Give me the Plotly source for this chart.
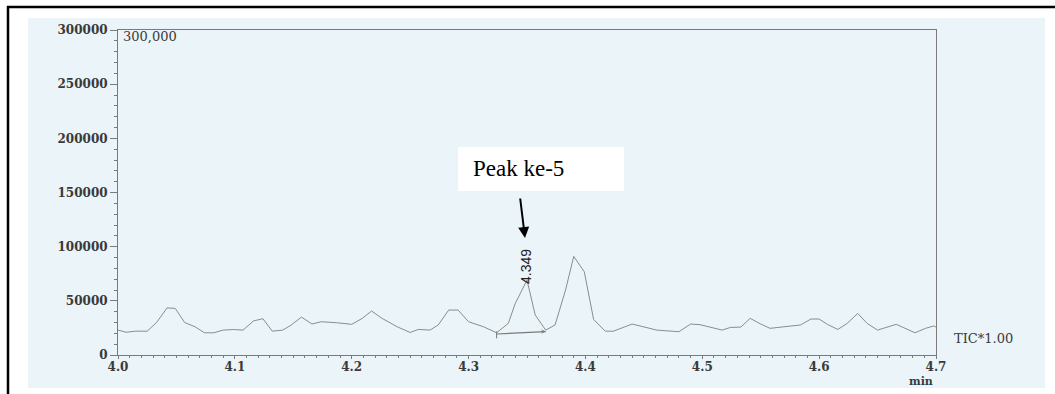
import plotly.graph_objects as go

# Retention time (min) and TIC intensity
time_min = [4.000, 4.007, 4.015, 4.025, 4.033, 4.042, 4.049, 4.057, 4.066, 4.074,
            4.082, 4.090, 4.099, 4.107, 4.116, 4.124, 4.132, 4.141, 4.148, 4.157,
            4.166, 4.174, 4.187, 4.200, 4.209, 4.217, 4.226, 4.239, 4.250, 4.257,
            4.267, 4.274, 4.283, 4.291, 4.300, 4.313, 4.324, 4.334, 4.340, 4.350,
            4.357, 4.366, 4.374, 4.383, 4.390, 4.399, 4.407, 4.417, 4.424, 4.440,
            4.461, 4.480, 4.490, 4.498, 4.517, 4.524, 4.533, 4.541, 4.550, 4.558,
            4.576, 4.584, 4.593, 4.600, 4.607, 4.616, 4.624, 4.633, 4.641, 4.650,
            4.666, 4.674, 4.682, 4.691, 4.698, 4.711]
intensity = [23000, 21000, 22000, 22000, 30000, 43500, 43000, 30000, 26000, 20500,
             20500, 23000, 23500, 23000, 31500, 33500, 22000, 23000, 27500, 35000,
             28600, 30700, 29800, 28300, 33800, 40600, 33800, 26000, 20800, 23600,
             23000, 27700, 41500, 41500, 30700, 26000, 20500, 29200, 47700, 69200,
             37000, 23000, 27700, 60000, 91000, 76900, 32800, 22000, 22000, 28600,
             23000, 21500, 28600, 28000, 23000, 25400, 25800, 33800, 28600, 24600,
             26800, 27700, 33200, 33200, 28300, 23600, 29200, 38400, 29200, 23000,
             28300, 24600, 20500, 24600, 26800, 20000]

# Integration baseline of the marked peak
baseline_x = [4.324, 4.366]
baseline_y = [19400, 21600]
peak_rt = 4.349
peak_label = "4.349"
peak_name = "Peak ke-5"

x_ticks = [4.0, 4.1, 4.2, 4.3, 4.4, 4.5, 4.6, 4.7]
y_ticks = [0, 50000, 100000, 150000, 200000, 250000, 300000]

BG = "#EBF4F8"
AX = "#7a7a7a"
TXT = "#3a3a3a"
SERIF = "DejaVu Serif"

fig = go.Figure()
fig.add_trace(go.Scatter(x=time_min, y=intensity, mode="lines",
                         line=dict(color="#8c8c8c", width=1), showlegend=False,
                         hoverinfo="x+y"))
fig.add_trace(go.Scatter(x=baseline_x, y=baseline_y, mode="lines",
                         line=dict(color="#7a7a7a", width=1.2), showlegend=False,
                         hoverinfo="skip"))

W, H = 1055, 394
L, R, T, B = 118, 119, 30, 39
pw, ph = W - L - R, H - T - B

def px_x(p):
    return (p - L) / pw

def px_y(p):
    return (H - B - p) / ph

shapes = [
    # scanned light-blue area
    dict(type="rect", xref="paper", yref="paper", x0=px_x(28), x1=px_x(1045),
         y0=px_y(388), y1=px_y(18), fillcolor=BG, line=dict(width=0), layer="below"),
    # outer black frame (left and top)
    dict(type="line", xref="paper", yref="paper", x0=px_x(8), x1=px_x(8),
         y0=px_y(400), y1=px_y(6), line=dict(color="black", width=2.5)),
    dict(type="line", xref="paper", yref="paper", x0=px_x(7), x1=px_x(1060),
         y0=px_y(7), y1=px_y(7), line=dict(color="black", width=2.5)),
    # white label box
    dict(type="rect", xref="x", yref="y", x0=4.291, x1=4.433, y0=151400, y1=192000,
         fillcolor="white", line=dict(width=0)),
    # baseline end tick
    dict(type="line", xref="x", yref="y", x0=baseline_x[0], x1=baseline_x[0],
         y0=baseline_y[0] - 4000, y1=baseline_y[0] + 2500, line=dict(color="#7a7a7a", width=1)),
]

annotations = [
    dict(x=px_x(121), y=px_y(37), xref="paper", yref="paper", text="300,000",
         showarrow=False, xanchor="left", yanchor="middle",
         font=dict(family=SERIF, size=13, color=TXT)),
    dict(x=px_x(952), y=px_y(338), xref="paper", yref="paper", text="TIC*1.00",
         showarrow=False, xanchor="left", yanchor="middle",
         font=dict(family=SERIF, size=13, color=TXT)),
    dict(x=px_x(921), y=px_y(381), xref="paper", yref="paper", text="<b>min</b>",
         showarrow=False, xanchor="center", yanchor="middle",
         font=dict(family=SERIF, size=11, color=TXT)),
    dict(x=peak_rt, y=82000, text=peak_label, textangle=-90, showarrow=False,
         xanchor="center", yanchor="middle",
         font=dict(family="Liberation Sans Narrow, Liberation Sans", size=14, color="#222")),
    dict(x=4.343, y=172000, text=peak_name, showarrow=False, xanchor="center",
         yanchor="middle", font=dict(family="Liberation Serif", size=23, color="black")),
    dict(x=4.3483, y=108000, ax=-5, ay=-41, text="", showarrow=True,
         arrowhead=2, arrowsize=1.1, arrowwidth=2, arrowcolor="black"),
    dict(x=baseline_x[1], y=baseline_y[1], ax=-6, ay=0, text="", showarrow=True,
         arrowhead=3, arrowsize=0.8, arrowwidth=1, arrowcolor="#7a7a7a"),
]

fig.update_layout(
    width=W, height=H,
    margin=dict(l=L, r=R, t=T, b=B, pad=0),
    paper_bgcolor="white", plot_bgcolor=BG,
    shapes=shapes, annotations=annotations,
    showlegend=False,
)
fig.update_xaxes(range=[4.0, 4.7], tickvals=x_ticks, tickformat=".1f",
                 showgrid=False, zeroline=False, showline=True, linecolor=AX,
                 linewidth=1, mirror=True, ticks="outside", ticklen=3,
                 ticklabelstandoff=-2,
                 tickcolor=AX, tickfont=dict(family=SERIF, size=12, color=TXT, weight="bold"),
                 minor=dict(dtick=0.01, ticks="outside", ticklen=2, tickcolor=AX))
fig.update_yaxes(range=[0, 300000], tickvals=y_ticks, tickformat="d",
                 showgrid=False, zeroline=False, showline=True, linecolor=AX,
                 linewidth=1, mirror=True, ticks="outside", ticklen=7,
                 tickcolor=AX, tickfont=dict(family=SERIF, size=12, color=TXT, weight="bold"),
                 minor=dict(dtick=10000, ticks="outside", ticklen=3, tickcolor=AX))

fig.write_html("out.html", config={"displayModeBar": False},
               post_script="document.body.style.margin='0';document.body.style.overflow='hidden';")
